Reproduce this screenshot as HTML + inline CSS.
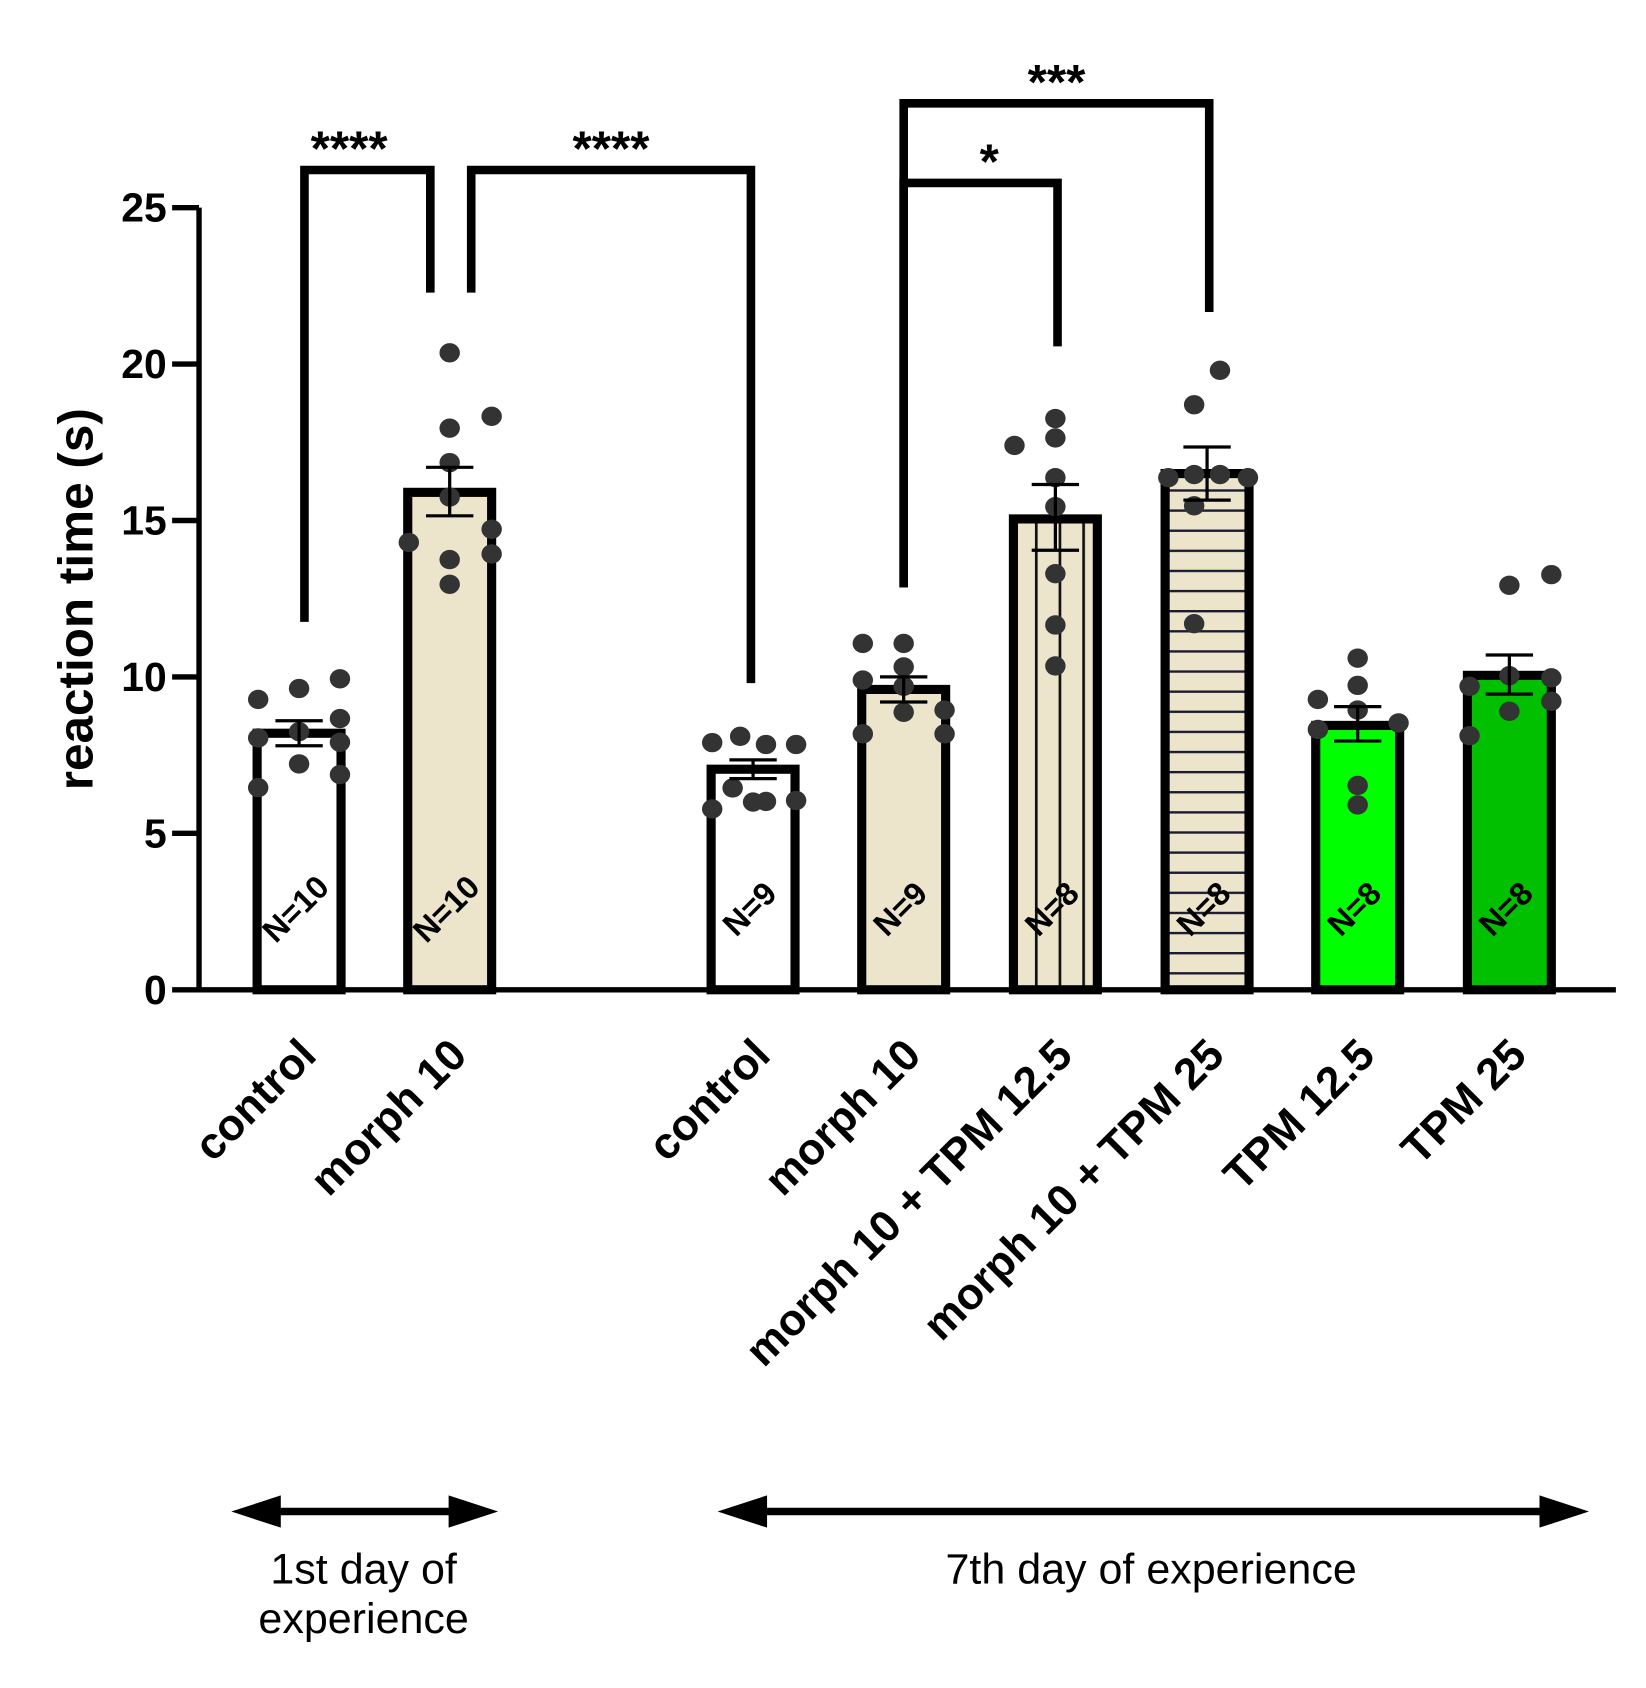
<!DOCTYPE html>
<html><head><meta charset="utf-8"><style>
html,body{margin:0;padding:0;background:#fff;}
svg{display:block;}
text{font-family:"Liberation Sans",Arial,sans-serif;}
</style></head><body>
<svg id="chart" width="1646" height="1688" viewBox="0 0 1530 1569" xmlns="http://www.w3.org/2000/svg">
<defs>
<pattern id="vlines" patternUnits="userSpaceOnUse" width="22" height="10" x="-6"><rect width="22" height="10" fill="#ece5cb"/><rect x="0" width="2.5" height="10" fill="#111"/></pattern>
<pattern id="hlines" patternUnits="userSpaceOnUse" width="10" height="18.7" y="6"><rect width="10" height="18.7" fill="#ece5cb"/><rect y="0" width="10" height="2.2" fill="#1a1a30"/></pattern>
</defs>
<g id="g"></g>
</svg>
<script>
const categories = ["control","morph 10","control","morph 10","morph 10 + TPM 12.5","morph 10 + TPM 25","TPM 12.5","TPM 25"];
const means = [8.2,15.9,7.05,9.6,15.05,16.5,8.45,10.05];
const errUp = [8.6,16.7,7.35,10.0,16.15,17.35,9.05,10.7];
const errDown = [7.8,15.15,6.75,9.2,14.05,15.65,7.95,9.45];
const nLabels = ["N=10","N=10","N=9","N=9","N=8","N=8","N=8","N=8"];
const points = [
 [9.28,9.63,9.94,8.05,8.25,8.67,7.22,7.91,6.46,6.88],
 [20.36,17.95,18.33,16.85,15.75,14.3,14.72,13.93,13.75,12.96],
 [7.9,8.1,7.84,7.84,5.78,6.45,6.02,6.05,6.0],
 [11.07,11.07,10.32,9.9,9.7,8.94,8.18,8.87,8.18],
 [17.4,18.26,17.64,16.37,15.44,13.3,11.66,10.35],
 [18.7,19.8,16.37,16.47,16.47,16.37,15.47,11.7],
 [9.28,10.6,9.73,8.32,8.94,8.53,6.53,5.91],
 [9.7,12.93,13.27,10.04,9.97,8.9,9.22,8.12]
];
const pointOffsets = [
 [-38,0,38,-38,0,38,0,38,-38,38],
 [0,0,39,0,0,-38,39,39,0,0],
 [-38,-12,12,40,-38,-19,12,40,0],
 [-38,0,0,-38,0,38,-38,0,38],
 [-38,0,0,0,0,0,0,0],
 [-12,12,-36,-12,12,38,-12,-12],
 [-37,0,0,-37,0,38,0,0],
 [-37,0,39,0,39,0,39,-37]
];
const fills = ["#fff","#ece5cb","#fff","#ece5cb","url(#vlines)","url(#hlines)","#00ff00","#00c000"];
const yTicks = [0,5,10,15,20,25];
const centers = [278,418,700,840,981,1122,1262,1403];
const brackets = [[0,1,158,578,272,"****"],[1,2,158,272,635,"****"],[3,4,170,546,322,"*"],[3,5,96,546,290,"***"]];
const starShift = [-17,0,8,0];
const baseY=920, topY=193, yMax=25;
const y = v => baseY - (baseY-topY)*v/yMax;
const NS="http://www.w3.org/2000/svg";
const g=document.getElementById('g');
function mk(t,a,p){const e=document.createElementNS(NS,t);for(const k in a)e.setAttribute(k,a[k]);(p||g).appendChild(e);return e;}
categories.forEach((c,i)=>{
 const cx=centers[i], w=78;
 const b=mk('rect',{x:cx-w/2,y:y(means[i]),width:w,height:baseY-y(means[i]),fill:fills[i],stroke:'#000','stroke-width':8.5});
 
 
 const t=mk('text',{x:0,y:0,'font-size':30,'font-weight':'bold','text-anchor':'middle',transform:`translate(${cx+4},${852}) rotate(-45)`});
 t.textContent=nLabels[i];
 
 
});
points.forEach((arr,i)=>arr.forEach((v,j)=>{
 const d=mk('ellipse',{cx:centers[i]+pointOffsets[i][j],cy:y(v),rx:9.5,ry:9,fill:'#333'});
 
 
}));
categories.forEach((c,i)=>{
 const cx=centers[i];
 const e=mk('path',{d:`M${cx},${y(errDown[i])}V${y(errUp[i])}M${cx-22},${y(errUp[i])}H${cx+22}M${cx-22},${y(errDown[i])}H${cx+22}`,stroke:'#000','stroke-width':3,fill:'none'});
 
 
});
const ax=mk('path',{d:`M185,${topY}V${baseY}H1502`,stroke:'#000','stroke-width':5,fill:'none'});


yTicks.forEach(v=>{
 const l=mk('line',{x1:160,x2:185,y1:y(v),y2:y(v),stroke:'#000','stroke-width':5});
 
 
 const t=mk('text',{x:155,y:y(v)+13,'font-size':38,'font-weight':'bold','text-anchor':'end'});
 t.textContent=v;
 
 
});
categories.forEach((c,i)=>{
 const t=mk('text',{x:0,y:0,'font-size':41,'font-weight':'bold','text-anchor':'end',transform:`translate(${centers[i]+18},${983}) rotate(-45)`});
 t.textContent=c;
 
 
});
brackets.forEach((b,k)=>{
 const x1=b[0]===1&&b[1]===2?438:(b[0]===0?283:centers[b[0]]), x2=b[0]===0?400:(b[1]===2?698:centers[b[1]]+2);
 const p=mk('path',{d:`M${x1},${b[3]}V${b[2]}H${x2}V${b[4]}`,stroke:'#000','stroke-width':8,fill:'none'});
 
 
 const t=mk('text',{x:(x1+x2)/2+starShift[k],y:b[2]-4,'font-size':46,'font-weight':'bold','text-anchor':'middle'});
 t.textContent=b[5];
 
 
});
const yt=mk('text',{x:0,y:0,'font-size':46,'font-weight':'bold','text-anchor':'middle',transform:'translate(86,557) rotate(-90)'});
yt.textContent='reaction time (s)';


[[215,463],[667,1477]].forEach(a=>{
 const p=mk('path',{d:`M${a[0]+45},1405H${a[1]-45}`,stroke:'#000','stroke-width':7});
 
 
 const h=mk('path',{d:`M${a[0]},1405L${a[0]+46},1390V1420Z M${a[1]},1405L${a[1]-46},1390V1420Z`,fill:'#000'});
 
 
});
[["1st day of",338,1472],["experience",338,1518],["7th day of experience",1070,1472]].forEach(d=>{
 const t=mk('text',{x:d[1],y:d[2],'font-size':40,'text-anchor':'middle'});
 t.textContent=d[0];
 
 
});
</script>
</body></html>
